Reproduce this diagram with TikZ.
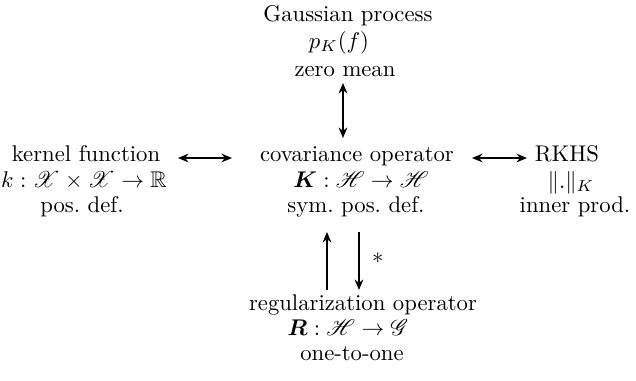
\documentclass[tikz,border=0pt]{standalone}
\usepackage{amsmath,amssymb,mathrsfs}
\usetikzlibrary{arrows.meta}
\begin{document}
\begin{tikzpicture}[x=0.4405pt,y=-0.4405pt,
  txt/.style={anchor=base,inner sep=0pt,font=\fontsize{10}{12}\selectfont},
  link/.style={line width=0.85pt,{Stealth[length=4.6pt,width=3.8pt]}-{Stealth[length=4.6pt,width=3.8pt]}},
  onearrow/.style={line width=0.85pt,-{Stealth[length=4.6pt,width=3.8pt]}}]
\useasboundingbox (0,0) rectangle (636,380);
% Gaussian process
\node[txt] (gp1) at (348,21) {Gaussian process};
\node[txt] (gp2) at (339,48) {$p_K(f)$};
\node[txt] (gp3) at (345,76) {zero mean};
% covariance operator
\node[txt] (cov1) at (357,161) {covariance operator};
\node[txt] (cov2) at (361,187) {$\boldsymbol{K}:\mathscr{H}\rightarrow\mathscr{H}$};
\node[txt] (cov3) at (356,212) {sym.\ pos.\ def.};
% kernel function
\node[txt] (ker1) at (86,161) {kernel function};
\node[txt] (ker2) at (84,187) {$k:\mathscr{X}\times\mathscr{X}\rightarrow\mathbb{R}$};
\node[txt] (ker3) at (82,212) {pos.\ def.};
% RKHS
\node[txt] (rk1) at (567,161) {RKHS};
\node[txt] (rk2) at (571,188) {$\|.\|_K$};
\node[txt] (rk3) at (575,212) {inner prod.};
% regularization operator
\node[txt] (reg1) at (363,310) {regularization operator};
\node[txt] (reg2) at (348,335) {$\boldsymbol{R}:\mathscr{H}\rightarrow\mathscr{G}$};
\node[txt] (reg3) at (352,360) {one-to-one};
% relations
\coordinate (gpa) at (343,83);
\coordinate (gpb) at (343,138);
\draw[link] (gpa) -- (gpb);
\coordinate (ka) at (178,158);
\coordinate (kb) at (232,158);
\draw[link] (ka) -- (kb);
\coordinate (ra) at (472,158);
\coordinate (rb) at (527,158);
\draw[link] (ra) -- (rb);
\coordinate (upa) at (327,290);
\coordinate (upb) at (327,232);
\draw[onearrow] (upa) -- (upb);
\coordinate (dna) at (359,232);
\coordinate (dnb) at (359,290);
\draw[onearrow] (dna) -- node[right=2pt,pos=0.45] (st) {$*$} (dnb);
\end{tikzpicture}
\end{document}
